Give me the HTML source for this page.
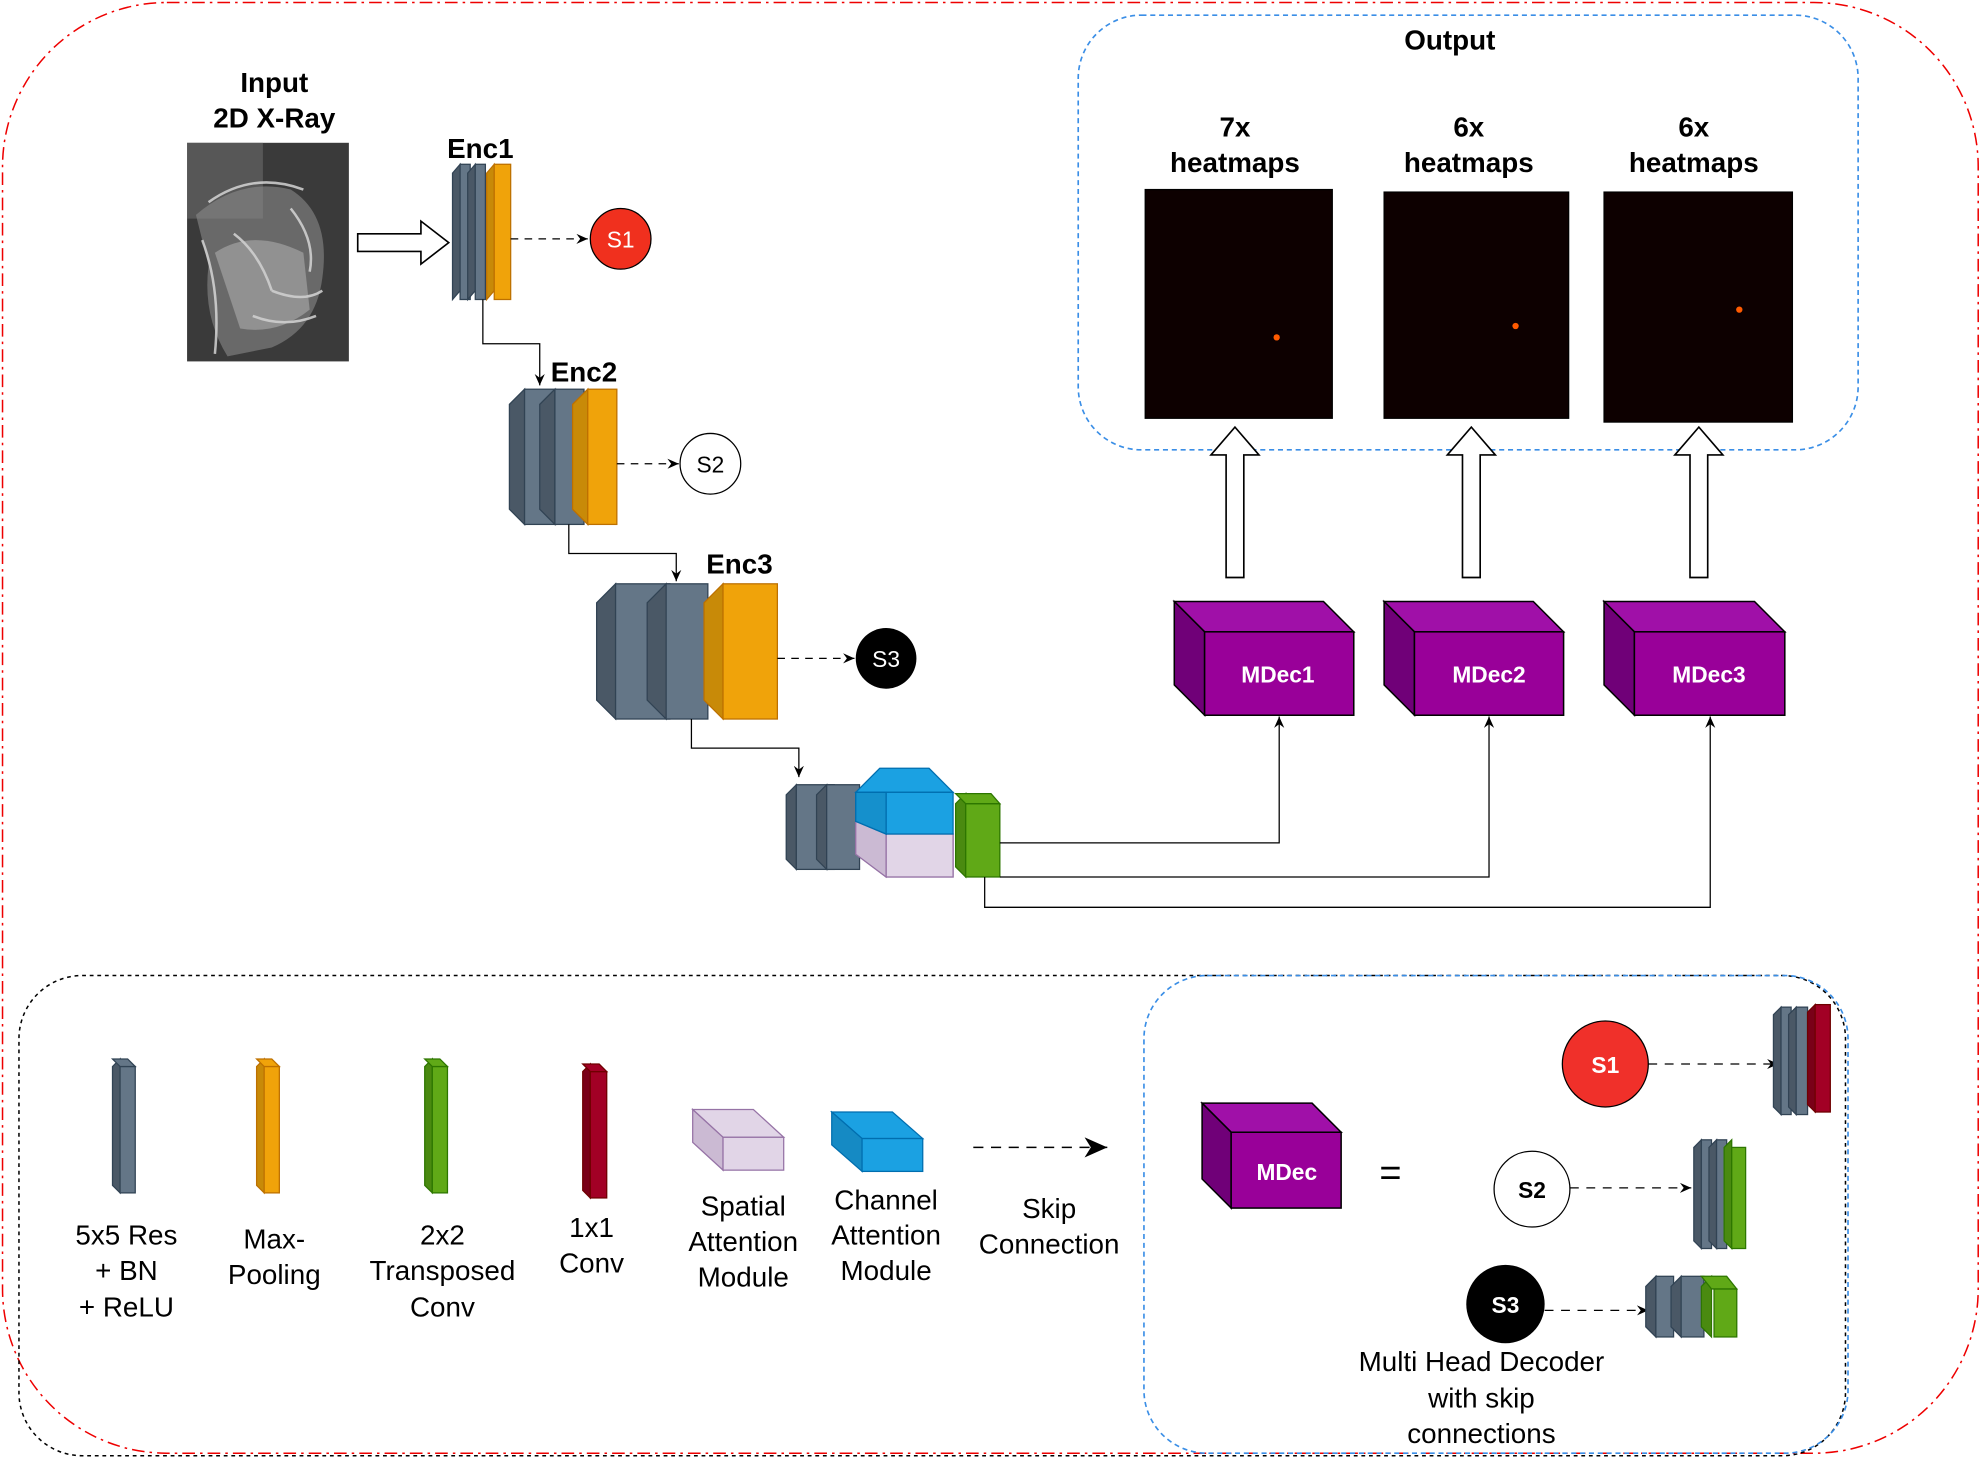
<!DOCTYPE html>
<html><head><meta charset="utf-8"><style>
html,body{margin:0;padding:0;background:#fff}
svg{display:block}
text{font-family:"Liberation Sans",sans-serif}
.b{font-weight:bold}
</style></head><body>
<svg width="1982" height="1457" viewBox="0 0 1568 1153" preserveAspectRatio="none" xmlns="http://www.w3.org/2000/svg">
<defs>
<marker id="ah" markerWidth="10" markerHeight="10" refX="9" refY="5" orient="auto" markerUnits="userSpaceOnUse"><path d="M0,1 L9,5 L0,9 L3,5z" fill="#000"/></marker>
<marker id="ah2" markerWidth="20" markerHeight="20" refX="18" refY="8" orient="auto" markerUnits="userSpaceOnUse"><path d="M0,0 L18,8 L0,16 L5,8z" fill="#000"/></marker>
</defs>
<rect x="2" y="2" width="1563" height="1148" rx="130" fill="none" stroke="#e00" stroke-width="1.2" stroke-dasharray="10,4,2,4"/>
<rect x="853" y="12" width="617" height="344" rx="50" fill="none" stroke="#3a8ee6" stroke-width="1.3" stroke-dasharray="4,3"/>
<rect x="15" y="772" width="1445" height="380" rx="50" fill="none" stroke="#000" stroke-width="1.2" stroke-dasharray="3,3"/>
<rect x="905" y="772" width="557" height="378" rx="50" fill="none" stroke="#3a8ee6" stroke-width="1.3" stroke-dasharray="4,3"/>

<!-- input -->
<text x="217" y="73" text-anchor="middle" class="b" font-size="22">Input</text>
<text x="217" y="101" text-anchor="middle" class="b" font-size="22">2D X-Ray</text>
<rect x="148" y="113" width="128" height="173" fill="#3a3a3a"/>
<rect x="148" y="113" width="60" height="60" fill="#6a6a6a" opacity="0.6"/>
<path d="M155,170 Q190,140 230,150 Q262,170 255,220 Q250,260 215,275 L180,282 Q160,250 165,210z" fill="#888" opacity="0.6"/>
<g fill="none" stroke="#ddd" stroke-width="2" opacity="0.8">
<path d="M165,160 Q200,135 240,150"/><path d="M160,190 Q175,230 170,280"/><path d="M185,185 Q205,200 215,230"/>
<path d="M215,230 Q240,240 255,230"/><path d="M200,250 Q225,260 250,250"/><path d="M230,165 Q250,190 245,215"/>
</g>
<path d="M170,200 Q200,180 240,200 L245,245 Q220,265 190,260z" fill="#ccc" opacity="0.4"/>
<path d="M283,185 L333,185 L333,175 L355,192 L333,209 L333,199 L283,199z" fill="#fff" stroke="#000" stroke-width="1.3"/>

<!-- Enc1 -->
<text x="380" y="125" text-anchor="middle" class="b" font-size="22">Enc1</text>
<g stroke="#314354" stroke-width="1">
<polygon points="358,137 364,130 364,230 358,237" fill="#4a5866"/><rect x="364" y="130" width="8" height="107" fill="#647687"/>
<polygon points="370,137 376,130 376,230 370,237" fill="#4a5866"/><rect x="376" y="130" width="8" height="107" fill="#647687"/>
</g>
<g stroke="#bd7000"><polygon points="385,137 391,130 391,230 385,237" fill="#c88a08"/><rect x="391" y="130" width="13" height="107" fill="#f0a30a"/></g>
<line x1="404" y1="189" x2="465" y2="189" stroke="#000" stroke-dasharray="6,5" marker-end="url(#ah)"/>
<circle cx="491" cy="189" r="24" fill="#f0301e" stroke="#000"/>
<text x="491" y="196" text-anchor="middle" font-size="18" fill="#fff">S1</text>
<polyline points="382,237 382,272 427,272 427,305" fill="none" stroke="#000" marker-end="url(#ah)"/>

<!-- Enc2 -->
<text x="462" y="302" text-anchor="middle" class="b" font-size="22">Enc2</text>
<g stroke="#314354">
<polygon points="403,320 415,308 415,415 403,403" fill="#4a5866"/><rect x="415" y="308" width="25" height="107" fill="#647687"/>
<polygon points="427,320 439,308 439,415 427,403" fill="#4a5866"/><rect x="439" y="308" width="23" height="107" fill="#647687"/>
</g>
<g stroke="#bd7000"><polygon points="453,320 465,308 465,415 453,403" fill="#c88a08"/><rect x="465" y="308" width="23" height="107" fill="#f0a30a"/></g>
<line x1="488" y1="367" x2="537" y2="367" stroke="#000" stroke-dasharray="6,5" marker-end="url(#ah)"/>
<circle cx="562" cy="367" r="24" fill="#fff" stroke="#000"/>
<text x="562" y="374" text-anchor="middle" font-size="18">S2</text>
<polyline points="450,415 450,438 535,438 535,460" fill="none" stroke="#000" marker-end="url(#ah)"/>

<!-- Enc3 -->
<text x="585" y="454" text-anchor="middle" class="b" font-size="22">Enc3</text>
<g stroke="#314354">
<polygon points="472,477 487,462 487,569 472,554" fill="#4a5866"/><rect x="487" y="462" width="43" height="107" fill="#647687"/>
<polygon points="512,477 527,462 527,569 512,554" fill="#4a5866"/><rect x="527" y="462" width="33" height="107" fill="#647687"/>
</g>
<g stroke="#bd7000"><polygon points="557,477 572,462 572,569 557,554" fill="#c88a08"/><rect x="572" y="462" width="43" height="107" fill="#f0a30a"/></g>
<line x1="615" y1="521" x2="676" y2="521" stroke="#000" stroke-dasharray="6,5" marker-end="url(#ah)"/>
<circle cx="701" cy="521" r="24" fill="#000"/>
<text x="701" y="528" text-anchor="middle" font-size="18" fill="#fff">S3</text>
<polyline points="547,569 547,592 632,592 632,615" fill="none" stroke="#000" marker-end="url(#ah)"/>

<!-- bottleneck -->
<g stroke="#314354">
<polygon points="622,629 630,621 630,688 622,680" fill="#4a5866"/><rect x="630" y="621" width="30" height="67" fill="#647687"/>
<polygon points="646,629 654,621 654,688 646,680" fill="#4a5866"/><rect x="654" y="621" width="26" height="67" fill="#647687"/>
</g>
<g stroke="#9673a6"><polygon points="677,642 697,642 754,660 754,694 701,694 677,676" fill="#e1d5e7"/><rect x="701" y="660" width="53" height="34" fill="#e1d5e7"/><polygon points="677,642 701,660 701,694 677,676" fill="#cbbad3"/></g>
<g stroke="#006eaf"><polygon points="677,627 696,608 735,608 754,627" fill="#1ba1e2"/><polygon points="677,627 677,650 701,660 701,631" fill="#168ac4"/><rect x="701" y="627" width="53" height="33" fill="#1ba1e2"/><polygon points="677,627 701,627 701,660 677,650" fill="#1590cc"/></g>
<g stroke="#2d7600"><polygon points="756,636 764,628 764,694 756,686" fill="#4a8a10"/><rect x="764" y="636" width="27" height="58" fill="#60a917"/><polygon points="756,628 784,628 791,636 764,636" fill="#60a917"/></g>

<polyline points="791,667 1012,667 1012,567" fill="none" stroke="#000" marker-end="url(#ah)"/>
<polyline points="791,694 1178,694 1178,567" fill="none" stroke="#000" marker-end="url(#ah)"/>
<polyline points="779,694 779,718 1353,718 1353,567" fill="none" stroke="#000" marker-end="url(#ah)"/>

<!-- MDec -->
<g stroke="#000" stroke-width="1.2">
<polygon points="929,476 1047,476 1071,500 953,500" fill="#a010a8"/><polygon points="929,476 953,500 953,566 929,542" fill="#700078"/><rect x="953" y="500" width="118" height="66" fill="#990099"/>
<polygon points="1095,476 1213,476 1237,500 1119,500" fill="#a010a8"/><polygon points="1095,476 1119,500 1119,566 1095,542" fill="#700078"/><rect x="1119" y="500" width="118" height="66" fill="#990099"/>
<polygon points="1269,476 1388,476 1412,500 1293,500" fill="#a010a8"/><polygon points="1269,476 1293,500 1293,566 1269,542" fill="#700078"/><rect x="1293" y="500" width="119" height="66" fill="#990099"/>
</g>
<text x="1011" y="540" text-anchor="middle" class="b" font-size="18" fill="#fff">MDec1</text>
<text x="1178" y="540" text-anchor="middle" class="b" font-size="18" fill="#fff">MDec2</text>
<text x="1352" y="540" text-anchor="middle" class="b" font-size="18" fill="#fff">MDec3</text>

<!-- up arrows -->
<g fill="#fff" stroke="#000" stroke-width="1.3">
<path d="M970,457 L970,360 L958,360 L977,338 L996,360 L984,360 L984,457z"/>
<path d="M1157,457 L1157,360 L1145,360 L1164,338 L1183,360 L1171,360 L1171,457z"/>
<path d="M1337,457 L1337,360 L1325,360 L1344,338 L1363,360 L1351,360 L1351,457z"/>
</g>

<!-- heatmaps -->
<text x="1147" y="39" text-anchor="middle" class="b" font-size="22">Output</text>
<text x="977" y="108" text-anchor="middle" class="b" font-size="22">7x</text><text x="977" y="136" text-anchor="middle" class="b" font-size="22">heatmaps</text>
<text x="1162" y="108" text-anchor="middle" class="b" font-size="22">6x</text><text x="1162" y="136" text-anchor="middle" class="b" font-size="22">heatmaps</text>
<text x="1340" y="108" text-anchor="middle" class="b" font-size="22">6x</text><text x="1340" y="136" text-anchor="middle" class="b" font-size="22">heatmaps</text>
<rect x="906" y="150" width="148" height="181" fill="#0d0000" stroke="#000"/>
<rect x="1095" y="152" width="146" height="179" fill="#0d0000" stroke="#000"/>
<rect x="1269" y="152" width="149" height="182" fill="#0d0000" stroke="#000"/>
<circle cx="1010" cy="267" r="2.5" fill="#ff5a00"/><circle cx="1199" cy="258" r="2.5" fill="#ff5a00"/><circle cx="1376" cy="245" r="2.5" fill="#ff5a00"/>

<!-- legend -->
<g stroke="#314354"><polygon points="89,844 95,838 95,944 89,938" fill="#4a5866"/><rect x="95" y="844" width="12" height="100" fill="#647687"/><polygon points="89,838 101,838 107,844 95,844" fill="#647687"/></g>
<g stroke="#bd7000"><polygon points="203,844 209,838 209,944 203,938" fill="#c88a08"/><rect x="209" y="844" width="12" height="100" fill="#f0a30a"/><polygon points="203,838 215,838 221,844 209,844" fill="#f0a30a"/></g>
<g stroke="#2d7600"><polygon points="336,844 342,838 342,944 336,938" fill="#4a8a10"/><rect x="342" y="844" width="12" height="100" fill="#60a917"/><polygon points="336,838 348,838 354,844 342,844" fill="#60a917"/></g>
<g stroke="#6f0000"><polygon points="461,848 467,842 467,948 461,942" fill="#7a0018"/><rect x="467" y="848" width="13" height="100" fill="#a20025"/><polygon points="461,842 474,842 480,848 467,848" fill="#a20025"/></g>
<g font-size="22" text-anchor="middle">
<text x="100" y="985">5x5 Res</text><text x="100" y="1013">+ BN</text><text x="100" y="1042">+ ReLU</text>
<text x="217" y="988">Max-</text><text x="217" y="1016">Pooling</text>
<text x="350" y="985">2x2</text><text x="350" y="1013">Transposed</text><text x="350" y="1042">Conv</text>
<text x="468" y="979">1x1</text><text x="468" y="1007">Conv</text>
<text x="588" y="962">Spatial</text><text x="588" y="990">Attention</text><text x="588" y="1018">Module</text>
<text x="701" y="957">Channel</text><text x="701" y="985">Attention</text><text x="701" y="1013">Module</text>
<text x="830" y="964">Skip</text><text x="830" y="992">Connection</text>
<text x="1172" y="1085">Multi Head Decoder</text><text x="1172" y="1114">with skip</text><text x="1172" y="1142">connections</text>
</g>
<g stroke="#9673a6"><polygon points="548,878 596,878 620,900 572,900" fill="#e1d5e7"/><polygon points="548,878 572,900 572,926 548,904" fill="#cbbad3"/><rect x="572" y="900" width="48" height="26" fill="#e1d5e7"/></g>
<g stroke="#006eaf"><polygon points="658,880 706,880 730,901 682,901" fill="#1ba1e2"/><polygon points="658,880 682,901 682,927 658,906" fill="#158ac4"/><rect x="682" y="901" width="48" height="26" fill="#1ba1e2"/></g>
<line x1="770" y1="908" x2="876" y2="908" stroke="#000" stroke-dasharray="8,6" stroke-width="1.2" marker-end="url(#ah2)"/>

<g stroke="#000" stroke-width="1.2"><polygon points="951,873 1038,873 1061,896 974,896" fill="#a010a8"/><polygon points="951,873 974,896 974,956 951,933" fill="#700078"/><rect x="974" y="896" width="87" height="60" fill="#990099"/></g>
<text x="1018" y="934" text-anchor="middle" class="b" font-size="18" fill="#fff">MDec</text>
<text x="1100" y="938" text-anchor="middle" font-size="30">=</text>

<circle cx="1270" cy="842" r="34" fill="#f0302a" stroke="#000"/><text x="1270" y="849" text-anchor="middle" class="b" font-size="18" fill="#fff">S1</text>
<line x1="1304" y1="842" x2="1407" y2="842" stroke="#000" stroke-dasharray="7,6" marker-end="url(#ah)"/>
<g stroke="#314354"><polygon points="1403,803 1409,797 1409,882 1403,876" fill="#4a5866"/><rect x="1409" y="797" width="8" height="85" fill="#647687"/><polygon points="1415,803 1421,797 1421,882 1415,876" fill="#4a5866"/><rect x="1421" y="797" width="9" height="85" fill="#647687"/></g>
<g stroke="#6f0000"><polygon points="1430,801 1436,795 1436,880 1430,874" fill="#7a0018"/><rect x="1436" y="795" width="12" height="85" fill="#a20025"/></g>

<circle cx="1212" cy="941" r="30" fill="#fff" stroke="#000"/><text x="1212" y="948" text-anchor="middle" class="b" font-size="18">S2</text>
<line x1="1242" y1="940" x2="1338" y2="940" stroke="#000" stroke-dasharray="7,6" marker-end="url(#ah)"/>
<g stroke="#314354"><polygon points="1340,908 1346,902 1346,988 1340,982" fill="#4a5866"/><rect x="1346" y="902" width="8" height="86" fill="#647687"/><polygon points="1352,908 1358,902 1358,988 1352,982" fill="#4a5866"/><rect x="1358" y="902" width="8" height="86" fill="#647687"/></g>
<g stroke="#2d7600"><polygon points="1364,908 1370,902 1370,988 1364,982" fill="#4a8a10"/><rect x="1370" y="908" width="11" height="80" fill="#60a917"/></g>

<circle cx="1191" cy="1032" r="31" fill="#000"/><text x="1191" y="1039" text-anchor="middle" class="b" font-size="18" fill="#fff">S3</text>
<line x1="1222" y1="1037" x2="1304" y2="1037" stroke="#000" stroke-dasharray="7,6" marker-end="url(#ah)"/>
<g stroke="#314354"><polygon points="1302,1018 1310,1010 1310,1058 1302,1050" fill="#4a5866"/><rect x="1310" y="1010" width="14" height="48" fill="#647687"/><polygon points="1322,1018 1330,1010 1330,1058 1322,1050" fill="#4a5866"/><rect x="1330" y="1010" width="18" height="48" fill="#647687"/></g>
<g stroke="#2d7600"><polygon points="1346,1018 1354,1010 1354,1058 1346,1050" fill="#4a8a10"/><rect x="1356" y="1020" width="18" height="38" fill="#60a917"/><polygon points="1346,1010 1366,1010 1374,1020 1354,1020" fill="#60a917"/></g>
</svg>
</body></html>
